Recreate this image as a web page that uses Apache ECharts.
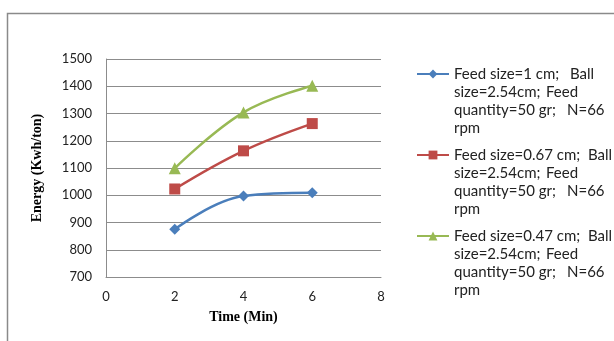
<!DOCTYPE html>
<html>
<head>
<meta charset="utf-8">
<script src="https://cdn.jsdelivr.net/npm/echarts@6/dist/echarts.min.js"></script>
<style>
  html, body { margin: 0; padding: 0; background: #fff; }
  #chart { width: 614px; height: 341px; }
</style>
</head>
<body>
<div id="chart"></div>
<script>
// Grinding time (min) and specific energy (Kwh/ton) for three feed sizes
const times = [2, 4, 6];
const feed1cm = [875, 997, 1009];
const feed067cm = [1023, 1163, 1263];
const feed047cm = [1099, 1304, 1402];
const seriesNames = [
  'Feed size=1 cm; Ball size=2.54cm; Feed quantity=50 gr; N=66 rpm',
  'Feed size=0.67 cm; Ball size=2.54cm; Feed quantity=50 gr; N=66 rpm',
  'Feed size=0.47 cm; Ball size=2.54cm; Feed quantity=50 gr; N=66 rpm'
];
// Wrapped legend lines: [left part, right part] per row
const legendRows = [
  [['Feed size=1 cm;', 'Ball'], ['size=2.54cm;', 'Feed'], ['quantity=50 gr;', 'N=66'], ['rpm', '']],
  [['Feed size=0.67 cm;', 'Ball'], ['size=2.54cm;', 'Feed'], ['quantity=50 gr;', 'N=66'], ['rpm', '']],
  [['Feed size=0.47 cm;', 'Ball'], ['size=2.54cm;', 'Feed'], ['quantity=50 gr;', 'N=66'], ['rpm', '']]
];
const yTicks = { min: 700, max: 1500, step: 100 };
const xTicks = { min: 0, max: 8, step: 2 };

const pairs = (xs, ys) => xs.map((x, i) => [x, ys[i]]);

const chart = echarts.init(document.getElementById('chart'), null, { renderer: 'canvas' });

const tickFont = { fontFamily: 'Lato', fontSize: 13, color: '#222' };
const nameFont = { fontFamily: 'Liberation Serif', fontSize: 14, fontWeight: 'bold', color: '#000' };
const gridGray = '#8c8c8c';
const legendFont = { fontFamily: 'Lato', fontSize: 15, color: '#222', lineHeight: 18 };

// column widths of the left part in each wrapped row (first row differs by label length)
const colWidth = (seriesIdx, rowIdx) => {
  if (rowIdx === 0) return seriesIdx === 0 ? 116 : 134;
  if (rowIdx === 1) return 92;
  if (rowIdx === 2) return 113;
  return 0;
};

const rich = { sp: Object.assign({}, legendFont) };
for (let s = 0; s < 3; s++) {
  for (let r = 0; r < 4; r++) {
    rich['c' + s + r] = Object.assign({ width: colWidth(s, r) || undefined }, legendFont);
  }
}
rich.t = Object.assign({}, legendFont);

chart.setOption({
  animation: false,
  backgroundColor: '#fff',
  graphic: [{
    type: 'rect',
    shape: { x: 7.5, y: 13.5, width: 800, height: 500 },
    style: { fill: 'none', stroke: '#8a8a8a', lineWidth: 1.5 },
    silent: true
  }],
  grid: { left: 106, right: 233, top: 59, bottom: 64 },
  xAxis: {
    type: 'value',
    min: xTicks.min, max: xTicks.max, interval: xTicks.step,
    name: 'Time (Min)', nameLocation: 'middle', nameGap: 33,
    nameTextStyle: nameFont,
    axisLine: { show: true, lineStyle: { color: gridGray, width: 1 } },
    axisTick: { show: false },
    axisLabel: Object.assign({ margin: 13, formatter: v => String(v) }, tickFont),
    splitLine: { show: false }
  },
  yAxis: {
    type: 'value',
    min: yTicks.min, max: yTicks.max, interval: yTicks.step,
    name: 'Energy (Kwh/ton)', nameLocation: 'middle', nameGap: 62,
    nameTextStyle: nameFont,
    axisLine: { show: true, lineStyle: { color: gridGray, width: 1 } },
    axisTick: { show: false },
    axisLabel: Object.assign({ margin: 14, formatter: v => String(v) }, tickFont),
    splitLine: { show: true, lineStyle: { color: gridGray, width: 1 } }
  },
  legend: {
    orient: 'vertical',
    left: 416,
    top: 11,
    padding: 0,
    itemWidth: 32,
    itemHeight: 11,
    itemGap: -45,
    data: seriesNames,
    formatter: name => {
      const s = seriesNames.indexOf(name);
      const rows = legendRows[s].map((row, r) =>
        row[1] ? '{c' + s + r + '|' + row[0] + '}{t|' + row[1] + '}' : '{t|' + row[0] + '}');
      // blank rows above keep the first text row level with the legend icon
      return ['{sp| }', '{sp| }', '{sp| }'].concat(rows).join('\n');
    },
    textStyle: Object.assign({ rich: rich }, legendFont)
  },
  series: [
    {
      name: seriesNames[0], type: 'line', smooth: 0.4,
      data: pairs(times, feed1cm),
      symbol: 'diamond', symbolSize: 11,
      lineStyle: { color: '#4a7ebb', width: 2.5 },
      itemStyle: { color: '#4a7ebb' }
    },
    {
      name: seriesNames[1], type: 'line', smooth: 0.4,
      data: pairs(times, feed067cm),
      symbol: 'rect', symbolSize: 11,
      lineStyle: { color: '#be4b48', width: 2.5 },
      itemStyle: { color: '#be4b48' }
    },
    {
      name: seriesNames[2], type: 'line', smooth: 0.4,
      data: pairs(times, feed047cm),
      symbol: 'triangle', symbolSize: 12,
      lineStyle: { color: '#98b954', width: 2.5 },
      itemStyle: { color: '#98b954' }
    }
  ]
});
</script>
</body>
</html>
